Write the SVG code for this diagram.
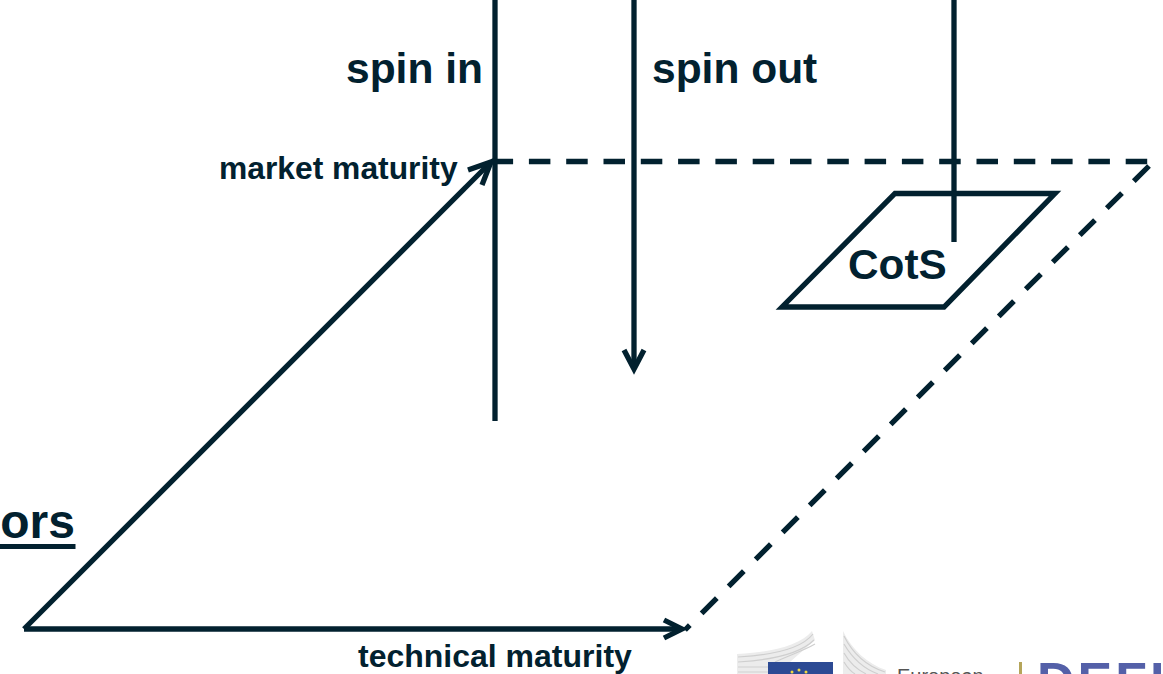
<svg xmlns="http://www.w3.org/2000/svg" width="1163" height="674" viewBox="0 0 1163 674">
<defs><filter id="b" x="-5%" y="-5%" width="110%" height="110%"><feGaussianBlur stdDeviation="0.5"/></filter></defs>
<style>
.t{font-family:"Liberation Sans",Arial,sans-serif;font-weight:700;fill:#02212f}
.l{fill:none;stroke:#02212f;stroke-width:5.3}
.d{stroke-dasharray:21.5 15.8}
.e{stroke-dasharray:21.5 16.7}
.g{fill:none;stroke:#cfcfcf;stroke-width:1.2}
.f{fill:#ececec}
</style>
<rect width="1163" height="674" fill="#fff"/>
<g id="connectors">
<path class="l" d="M495 0V421"/>
<path class="l" d="M634 0V368"/>
<path class="l" d="M624 350L634 369L644 350"/>
<path class="l" d="M954 0V242"/>
<path class="l" d="M24 629L490 163"/>
<path class="l" d="M468 170L491 162L482 185"/>
<path class="l" d="M24 629H681"/>
<path class="l" d="M664 620L682 629L664 638"/>
<path class="l d" d="M491.6 161.500H1148"/>
<path class="l e" d="M1149 166L685 630"/>
</g>
<g id="cots">
<path class="l" d="M895 193.500H1055L944 307H782Z"/>
<text class="t" x="848" y="279" font-size="42.300">CotS</text>
</g>
<g id="spin-in"><text class="t" x="346" y="83" font-size="42.500">spin in</text></g>
<g id="spin-out"><text class="t" x="652" y="83" font-size="42.500">spin out</text></g>
<g id="market-maturity"><text class="t" x="219" y="179" font-size="31.800">market maturity</text></g>
<g id="technical-maturity"><text class="t" x="358" y="667" font-size="32">technical maturity</text></g>
<g id="actors"><text class="t" x="75" y="538" font-size="48" text-anchor="end">ors</text><rect x="0" y="544" width="75.500" height="5" fill="#02212f"/></g>
<g id="logo">
<g filter="url(#b)">
<path class="f" d="M737 654C775 652 800 645 812 631L815 640L790 662H768V674H737Z"/>
<path class="g" d="M738 657C775 655 802 648 813 634M738 662C772 660 800 654 814 640M738 667H768M738 672H768M775 662C790 655 805 650 815 644"/>
<path class="f" d="M843 631C852 650 868 664 886 670L886 674H843Z"/>
<path class="g" d="M844 636C852 652 866 666 885 672M844 644C851 656 862 668 878 674M844 653C849 662 856 669 866 674M844 662C847 667 850 671 855 674"/>
</g>
<rect x="768" y="662" width="65" height="12" fill="#2c4a94"/>
<circle cx="792" cy="672" r="1.500" fill="#f0d840"/><circle cx="799" cy="670" r="1.500" fill="#f0d840"/><circle cx="806" cy="672" r="1.500" fill="#f0d840"/>
<text x="897" y="683" font-family="'Liberation Sans',Arial,sans-serif" font-size="20" fill="#555">European</text>
<rect x="1019" y="662" width="3" height="12" fill="#b5a55a"/>
<text x="1037" y="699" font-family="'Liberation Sans',Arial,sans-serif" font-weight="700" font-size="52" letter-spacing="3" fill="#5460a8">DEFI</text>
</g>
</svg>
